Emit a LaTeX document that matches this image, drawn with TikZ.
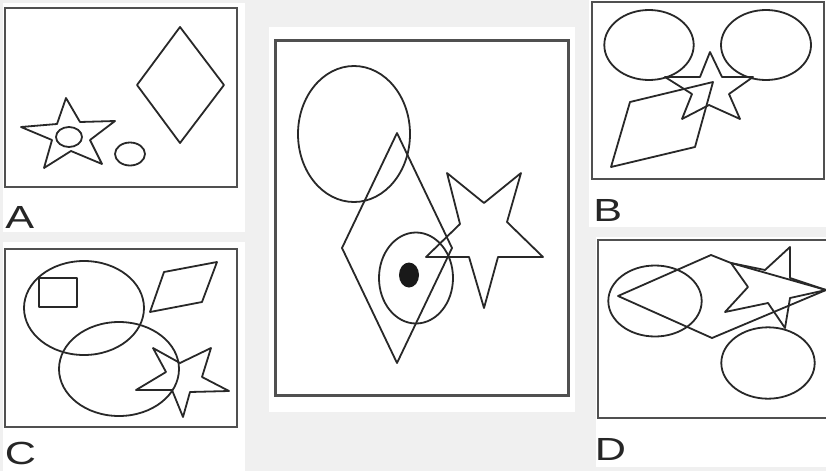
\documentclass[tikz,border=0pt]{standalone}
\usepackage{fontspec}
\setmainfont{Liberation Sans}
\usepackage{tikz}

\definecolor{pagegray}{RGB}{240,240,240}
\definecolor{framegray}{RGB}{80,80,80}
\definecolor{inkgray}{RGB}{40,40,40}

\begin{document}
\begin{tikzpicture}[x=1pt, y=-1pt,
    panelframe/.style={draw=framegray, line width=2.6pt},
    figline/.style={draw=inkgray, line width=1.8pt, line join=round},
    panellabel/.style={inner sep=0pt, anchor=base west, xscale=1.35, text=black!85, font=\fontsize{32}{32}\selectfont}]
    % page and white panels
    \fill[pagegray] (0,0) rectangle (826,471);
    \useasboundingbox (0,0) rectangle (826,471);
    \fill[white] (3,3) rectangle (245,232);
    \fill[white] (3,242) rectangle (245,471);
    \fill[white] (269,27) rectangle (575,412);
    \fill[white] (589,0) rectangle (826,227);
    \fill[white] (596,237) rectangle (826,467);

    % panel A
    \draw[panelframe] (5,8) rectangle (237,187);
    \draw[figline] (180,27) -- (224,85) -- (180,143) -- (137,85) -- cycle;
    \draw[figline] (66,98) -- (80,122) -- (115,121) -- (90,140) -- (102,164) -- (71,151) -- (44,168) -- (52,140) -- (21,127) -- (57,124) -- cycle;
    \draw[figline] (69,137) ellipse [x radius=13pt, y radius=10pt];
    \draw[figline] (130,154) ellipse [x radius=15pt, y radius=11.5pt];
    \node[panellabel] (labA) at (5,228) {A};

    % panel C
    \draw[panelframe] (5,249) rectangle (237,427);
    \draw[figline] (84,308) ellipse [x radius=60pt, y radius=47pt];
    \draw[figline] (119,369) ellipse [x radius=60pt, y radius=47pt];
    \draw[figline] (39,278) rectangle (77,307);
    \draw[figline] (150,312) -- (164,272) -- (217,262) -- (202,302) -- cycle;
    \draw[figline] (153,348) -- (180,363) -- (211,348) -- (202,377) -- (229,391) -- (190,392) -- (183,417) -- (172,390) -- (136,390) -- (166,372) -- cycle;
    \node[panellabel] (labC) at (4.5,464.5) {C};

    % centre panel
    \draw[panelframe, line width=3pt] (275,40) rectangle (568,395);
    \draw[figline] (354,134) ellipse [x radius=56pt, y radius=68pt];
    \draw[figline] (397,133) -- (452,248) -- (397,363) -- (342,248) -- cycle;
    \draw[figline] (416,278) ellipse [x radius=37pt, y radius=45.5pt];
    \fill[black!90] (409,275) ellipse [x radius=10pt, y radius=12.5pt];
    \draw[figline] (447,173) -- (484,203) -- (521,173) -- (507,222) -- (543,257) -- (498,257) -- (484,308) -- (469,257) -- (426,257) -- (460,224) -- cycle;

    % panel B
    \draw[panelframe] (592,2) rectangle (824,179);
    \draw[figline] (649,45) ellipse [x radius=44.7pt, y radius=35pt];
    \draw[figline] (766,45) ellipse [x radius=45pt, y radius=35pt];
    \draw[figline] (710,52) -- (722,77) -- (753,77) -- (729,94) -- (740,119) -- (709,105) -- (682,119) -- (692,94) -- (665,77) -- (700,77) -- cycle;
    \draw[figline] (611,167) -- (630,102) -- (713,82) -- (695,147) -- cycle;
    \node[panellabel] (labB) at (593,221.5) {B};

    % panel D
    \draw[panelframe] (830,240) -- (598,240) -- (598,418) -- (830,418);
    \draw[figline] (655,301) ellipse [x radius=46.7pt, y radius=35.5pt];
    \draw[figline] (768,363) ellipse [x radius=46.7pt, y radius=35.7pt];
    \draw[figline] (618,296) -- (711,255) -- (731,263) -- (826,290) -- (712,338) -- cycle;
    \draw[figline] (731,263) -- (765,270) -- (790,247) -- (790,278) -- (826,290) -- (790,298) -- (785,328) -- (768,303) -- (725,312) -- (748,287) -- cycle;
    \node[panellabel] (labD) at (594.5,460) {D};
\end{tikzpicture}
\end{document}
